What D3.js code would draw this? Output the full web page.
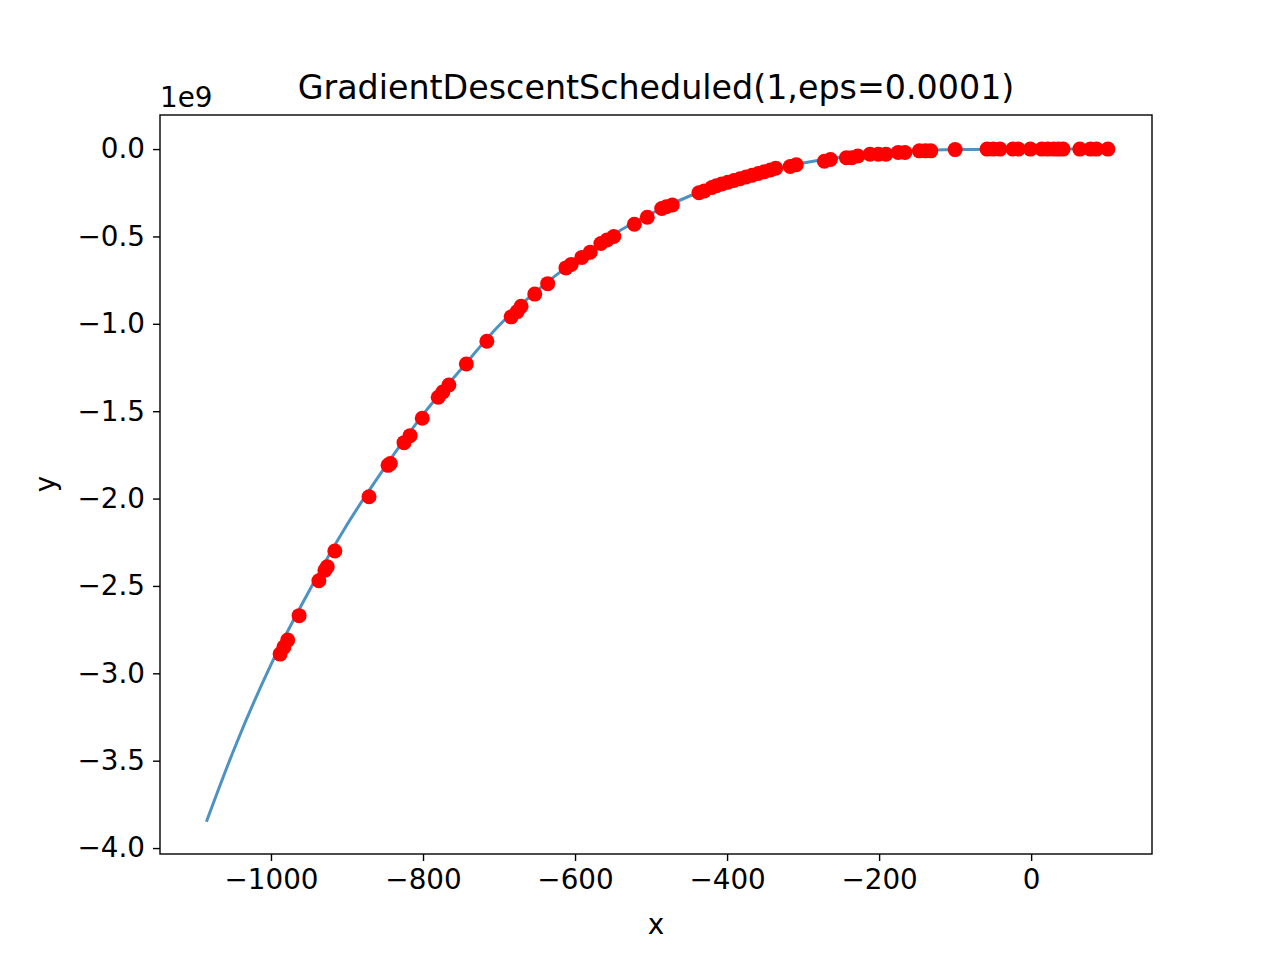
<!DOCTYPE html>
<html>
<head>
<meta charset="utf-8">
<script src="https://cdn.jsdelivr.net/npm/d3@7"></script>
<style>
  body { margin: 0; background: #fff; }
  text { font-family: "DejaVu Sans", sans-serif; fill: #000; }
</style>
</head>
<body>
<svg id="chart" width="1280" height="960"></svg>
<script>
// Curve samples (y in units of 1e9)
const lineX = [-1085, -1050, -1000, -950, -900, -850, -800, -750, -700, -650, -600, -550, -500, -450, -400, -350, -300, -250, -200, -150, -100, -50, 0, 50, 100];
const lineY = [-3.85, -3.45, -2.95, -2.53, -2.15, -1.82, -1.52, -1.26, -1.01, -0.81, -0.64, -0.49, -0.37, -0.27, -0.19, -0.13, -0.08, -0.047, -0.023, -0.01, -0.003, -0.0005, 0, 0, 0.003];

// Sampled points
const pointX = [-988, -983, -978, -963, -937, -929, -926, -916, -871, -846, -843, -825, -817, -801, -780, -774, -766, -743, -716, -684, -676, -671, -653, -636, -612, -605, -591, -580, -566, -558, -549, -522, -505, -486, -480, -472, -437, -430, -420, -414, -407, -399, -391, -383, -375, -367, -359, -351, -343, -336, -317, -309, -272, -264, -243, -236, -228, -212, -201, -191, -175, -166, -147, -139, -132, -100, -58, -50, -41, -24, -17, -1, 14, 22, 30, 36, 42, 64, 78, 86, 101];
const pointY = [-2.89, -2.85, -2.81, -2.67, -2.47, -2.41, -2.39, -2.30, -1.99, -1.81, -1.80, -1.68, -1.64, -1.54, -1.42, -1.39, -1.35, -1.23, -1.10, -0.96, -0.93, -0.90, -0.83, -0.77, -0.68, -0.66, -0.62, -0.59, -0.54, -0.52, -0.50, -0.43, -0.39, -0.34, -0.33, -0.32, -0.25, -0.24, -0.22, -0.21, -0.20, -0.19, -0.18, -0.17, -0.16, -0.15, -0.14, -0.13, -0.12, -0.11, -0.10, -0.09, -0.07, -0.06, -0.05, -0.05, -0.04, -0.03, -0.03, -0.03, -0.02, -0.02, -0.01, -0.01, -0.01, -0.003, 0, 0, 0, 0, 0, 0, 0, 0, 0, 0, 0, 0, 0, 0, 0];

const xTicks = [-1000, -800, -600, -400, -200, 0];
const yTicks = [0, -0.5, -1, -1.5, -2, -2.5, -3, -3.5, -4];

const margin = { left: 160, right: 1152, top: 115, bottom: 854 };
const svg = d3.select('#chart');

const x = d3.scaleLinear().domain([-1146, 159]).range([margin.left, margin.right]);
const y = d3.scaleLinear().domain([-4.034, 0.195]).range([margin.bottom, margin.top]);

const fmtMinus = s => s.replace('-', '\u2212');

// Line
const line = d3.line().x((d, i) => x(lineX[i])).y((d, i) => y(lineY[i])).curve(d3.curveMonotoneX);
svg.append('path').attr('d', line(lineX)).attr('fill', 'none')
    .attr('stroke', '#1f77b4').attr('stroke-opacity', 0.8).attr('stroke-width', 3);

// Points
svg.append('g').selectAll('circle').data(pointX).join('circle')
    .attr('cx', d => x(d)).attr('cy', (d, i) => y(pointY[i])).attr('r', 7.5).attr('fill', 'red');

// Axes
const xAxis = d3.axisBottom(x).tickValues(xTicks).tickSize(7).tickPadding(8).tickFormat(d => fmtMinus(String(d)));
const yAxis = d3.axisLeft(y).tickValues(yTicks).tickSize(7).tickPadding(8).tickFormat(d => fmtMinus(d3.format('.1f')(d)));

const gx = svg.append('g').attr('transform', `translate(0,${margin.bottom})`).call(xAxis);
const gy = svg.append('g').attr('transform', `translate(${margin.left},0)`).call(yAxis);
[gx, gy].forEach(g => {
    g.select('.domain').remove();
    g.selectAll('line').attr('stroke', '#000').attr('stroke-width', 1.4);
    g.selectAll('text').attr('font-size', 27.8).attr('font-family', '"DejaVu Sans", sans-serif');
});

// Frame
svg.append('rect').attr('x', margin.left).attr('y', margin.top)
    .attr('width', margin.right - margin.left).attr('height', margin.bottom - margin.top)
    .attr('fill', 'none').attr('stroke', '#000').attr('stroke-width', 1.4);

// Labels
svg.append('text').attr('x', (margin.left + margin.right) / 2).attr('y', 99).attr('text-anchor', 'middle')
    .attr('font-size', 33.3).text('GradientDescentScheduled(1,eps=0.0001)');
svg.append('text').attr('x', 160).attr('y', 107).attr('font-size', 27.8).text('1e9');
svg.append('text').attr('x', (margin.left + margin.right) / 2).attr('y', 934).attr('text-anchor', 'middle')
    .attr('font-size', 27.8).text('x');
svg.append('text').attr('transform', 'translate(55,484) rotate(-90)').attr('text-anchor', 'middle')
    .attr('font-size', 27.8).text('y');
</script>
</body>
</html>
